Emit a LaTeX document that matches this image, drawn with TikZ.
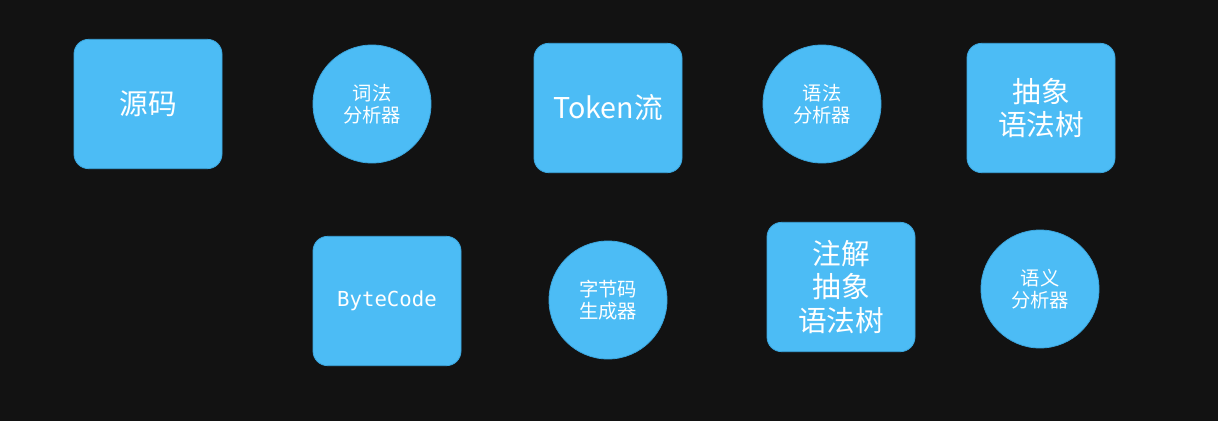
\documentclass[tikz,border=0pt]{standalone}
\usepackage{fontspec}
\setmainfont{Noto Sans CJK SC}
\setmonofont{DejaVu Sans Mono}
\usepackage{tikz}
\usetikzlibrary{shapes.geometric, positioning}
\definecolor{board}{HTML}{121212}
\definecolor{skyfill}{HTML}{4CBCF5}
\definecolor{skyedge}{HTML}{3BA6DE}

\begin{document}
\begin{tikzpicture}[
  x=0.75pt, y=-0.75pt,
  every node/.style={align=center, text=white},
  stage/.style={rectangle, rounded corners=11pt, fill=skyfill, draw=skyedge,
                line width=0.6pt, minimum width=111pt, minimum height=97pt,
                inner sep=2pt, font=\fontsize{21.5}{25}\selectfont},
  tool/.style={circle, fill=skyfill, draw=skyedge, line width=0.6pt,
               minimum size=88.5pt, inner sep=1pt,
               font=\fontsize{14.5}{16.5}\selectfont},
]

% ---------- chalkboard ----------
\fill[board] (0,0) rectangle (1218,421);
\useasboundingbox (0,0) rectangle (1218,421);

% ---------- front end (top row) ----------
\node[stage] (src) at (148,104) {源码};
\node[tool] (lexer) at (372,104) {词法\\分析器};
\node[stage, font=\fontsize{21.5}{25}\selectfont] (tokens) at (608,108) {Token流};
\node[tool] (parser) at (822,104) {语法\\分析器};
\node[stage] (ast) at (1041,108) {抽象\\语法树};

% ---------- back end (bottom row) ----------
\node[stage, font=\fontsize{15.5}{18}\ttfamily] (bytecode) at (387,301) {ByteCode};
\node[tool] (codegen) at (608,300) {字节码\\生成器};
\node[stage] (annot) at (841,287) {注解\\抽象\\语法树};
\node[tool] (sema) at (1040,289) {语义\\分析器};

\end{tikzpicture}
\end{document}
